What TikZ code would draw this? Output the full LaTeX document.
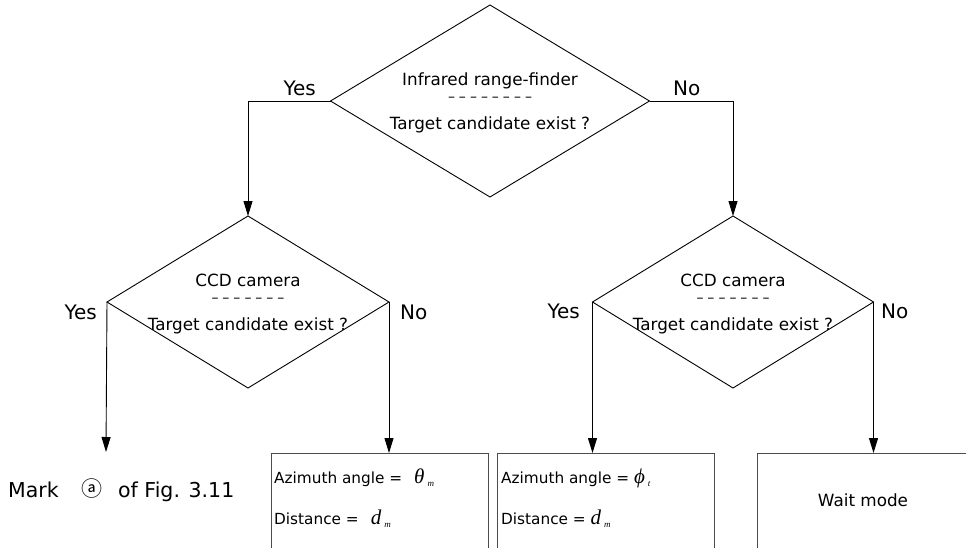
\documentclass[tikz,border=0pt]{standalone}
\usepackage{fontspec}
\setmainfont{DejaVu Sans}
\newfontfamily\cjkfont{Noto Sans CJK KR}
\newfontfamily\tms{Liberation Serif}
\usetikzlibrary{shapes.geometric,arrows.meta}
\newcommand\dd{–\hspace{4pt}}
\newcommand\mvar[2]{{\fontsize{21}{22}\selectfont\tms\itshape #1}\raisebox{-3pt}{\fontsize{9}{10}\selectfont\tms\itshape\hspace{3pt}#2}}
\begin{document}
\begin{tikzpicture}[x=1pt,y=-1pt,
  dia/.style={draw, diamond, inner sep=0pt, outer sep=0pt, line width=0.9pt},
  boxnode/.style={draw=black!70, rectangle, inner sep=0pt, outer sep=0pt, line width=0.9pt},
  dtext/.style={font=\fontsize{16.8}{20}\selectfont, inner sep=0pt, anchor=base},
  dashtext/.style={font=\fontsize{14}{16}\selectfont, inner sep=0pt},
  lbl/.style={font=\fontsize{20}{24}\selectfont, inner sep=0pt},
  btext/.style={font=\fontsize{15.3}{18}\selectfont, inner sep=0pt, anchor=base west},
  marktext/.style={font=\fontsize{20.5}{24}\selectfont, inner sep=0pt, anchor=base west},
  arr/.style={line width=0.9pt, -{Triangle[width=9pt,length=15pt]}}]
\useasboundingbox (0,0) rectangle (966,547);
\clip (0,0) rectangle (966,547);

% diamonds
\node[dia, minimum width=319pt, minimum height=192pt] (d0) at (490,101) {};
\node[dia, minimum width=282pt, minimum height=172pt] (d1) at (248,302) {};
\node[dia, minimum width=281pt, minimum height=172pt] (d2) at (733,302) {};

% diamond texts
\node[dtext] (d0a) at (490,85) {Infrared range-finder};
\node[dashtext] (d0b) at (490,99) {\dd\dd\dd\dd\dd\dd\dd–};
\node[dtext] (d0c) at (490,129) {Target candidate exist ?};
\node[dtext] (d1a) at (248,286) {CCD camera};
\node[dashtext] (d1b) at (248,300) {\dd\dd\dd\dd\dd\dd–};
\node[dtext] (d1c) at (248,330) {Target candidate exist ?};
\node[dtext] (d2a) at (733,286) {CCD camera};
\node[dashtext] (d2b) at (733,300) {\dd\dd\dd\dd\dd\dd–};
\node[dtext] (d2c) at (733,330) {Target candidate exist ?};

% Yes / No labels
\node[lbl, anchor=east] (y0) at (316,88) {Yes};
\node[lbl, anchor=west] (n0) at (673,88) {No};
\node[lbl, anchor=east] (y1) at (97,312) {Yes};
\node[lbl, anchor=west] (n1) at (400,312) {No};
\node[lbl, anchor=east] (y2) at (580,311) {Yes};
\node[lbl, anchor=west] (n2) at (881,311) {No};

% boxes
\node[boxnode, minimum width=217pt, minimum height=130pt] (b1) at (379.5,518) {};
\node[boxnode, minimum width=217pt, minimum height=130pt] (b2) at (605.5,518) {};
\node[boxnode, minimum width=225pt, minimum height=130pt] (b3) at (869.5,518) {};

\node[btext] (b1a) at (274,483) {Azimuth angle =\hspace{12pt}\mvar{θ}{m}};
\node[btext] (b1b) at (274,524) {Distance =\hspace{12pt}\mvar{d}{m}};
\node[btext] (b2a) at (501,483) {Azimuth angle = \mvar{ϕ}{t}};
\node[btext] (b2b) at (501,524) {Distance = \mvar{d}{m}};
\node[font=\fontsize{16.8}{20}\selectfont, inner sep=0pt, anchor=base] (b3a) at (863,506) {Wait mode};

% Mark text
\node[marktext] (mk1) at (8,497) {Mark};
\node[font=\fontsize{21}{24}\selectfont\cjkfont, inner sep=0pt] (mk2) at (92,489) {ⓐ};
\node[marktext] (mk3) at (118,497) {of Fig. 3.11};

\coordinate (ma) at (106,452);

% connectors
\draw[arr] (d0.west) -| (d1.north);
\draw[arr] (d0.east) -| (d2.north);
\draw[arr] (d1.west) -- (ma);
\draw[arr] (d1.east) -- (d1.east |- b1.north);
\draw[arr] (d2.west) -- (d2.west |- b2.north);
\draw[arr] (d2.east) -- (d2.east |- b3.north);
\end{tikzpicture}
\end{document}
